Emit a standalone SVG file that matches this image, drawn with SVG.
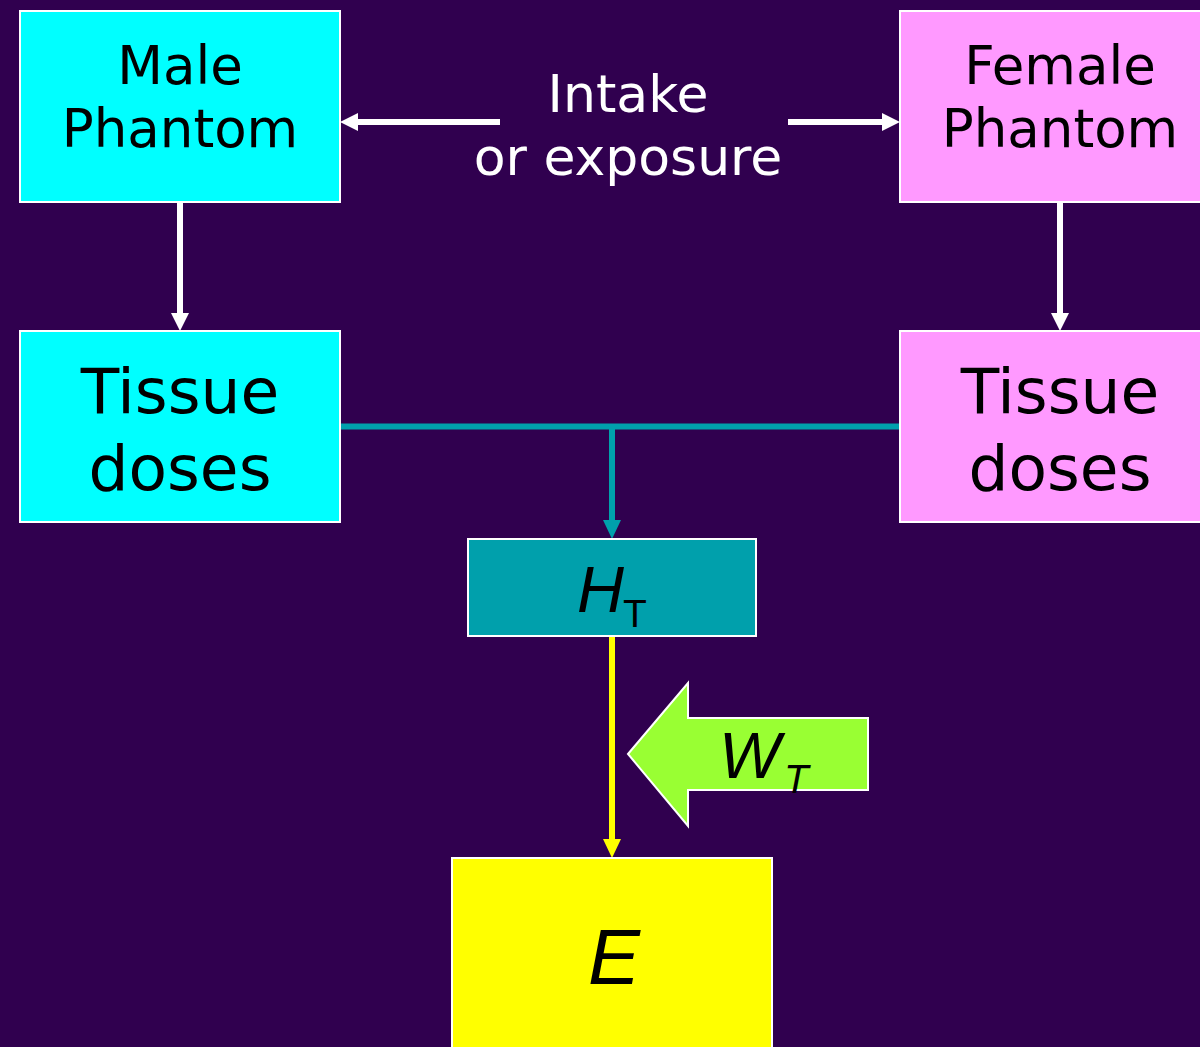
<svg xmlns="http://www.w3.org/2000/svg" width="1200" height="1047" viewBox="0 0 1200 1047">
<style>
.box{stroke:#ffffff;stroke-width:2}
.lbl{font-family:"DejaVu Sans",Verdana,sans-serif;fill:#000;text-anchor:middle}
.wl{stroke:#ffffff;stroke-width:6;fill:none}
.wh{fill:#ffffff}
.sym{font-family:"Liberation Sans",Arial,sans-serif;fill:#000}
</style>
<rect x="0" y="0" width="1200" height="1047" fill="#30004F"/>
<g id="connectors">
<line class="wl" x1="500" y1="122" x2="356" y2="122"/>
<polygon class="wh" points="340,122 358,113 358,131"/>
<line class="wl" x1="788" y1="122" x2="884" y2="122"/>
<polygon class="wh" points="900,122 882,113 882,131"/>
<line class="wl" x1="180" y1="203" x2="180" y2="315"/>
<polygon class="wh" points="180,331 171,313 189,313"/>
<line class="wl" x1="1060" y1="203" x2="1060" y2="315"/>
<polygon class="wh" points="1060,331 1051,313 1069,313"/>
<line x1="341" y1="426.5" x2="899" y2="426.5" stroke="#00A0AC" stroke-width="6"/>
<line x1="612" y1="426" x2="612" y2="522" stroke="#00A0AC" stroke-width="6"/>
<polygon points="612,539 603,520 621,520" fill="#00A0AC"/>
<line x1="612" y1="636" x2="612" y2="841" stroke="#FFFF00" stroke-width="6"/>
<polygon points="612,858 603,839 621,839" fill="#FFFF00"/>
</g>
<g id="label-intake">
<text class="lbl" x="628" y="112" font-size="52" style="fill:#ffffff">Intake</text>
<text class="lbl" x="628" y="175" font-size="52" style="fill:#ffffff">or exposure</text>
</g>
<g id="male-phantom">
<rect class="box" x="20" y="11" width="320" height="191" fill="#00FFFF"/>
<text class="lbl" x="180" y="84" font-size="53">Male</text>
<text class="lbl" x="180" y="147" font-size="53">Phantom</text>
</g>
<g id="female-phantom">
<rect class="box" x="900" y="11" width="320" height="191" fill="#FF99FF"/>
<text class="lbl" x="1060" y="84" font-size="53">Female</text>
<text class="lbl" x="1060" y="147" font-size="53">Phantom</text>
</g>
<g id="male-tissue">
<rect class="box" x="20" y="331" width="320" height="191" fill="#00FFFF"/>
<text class="lbl" x="180" y="413" font-size="63">Tissue</text>
<text class="lbl" x="180" y="490" font-size="63">doses</text>
</g>
<g id="female-tissue">
<rect class="box" x="900" y="331" width="320" height="191" fill="#FF99FF"/>
<text class="lbl" x="1060" y="413" font-size="63">Tissue</text>
<text class="lbl" x="1060" y="490" font-size="63">doses</text>
</g>
<g id="ht">
<rect class="box" x="468" y="539" width="288" height="97" fill="#00A0AC"/>
<text class="sym" x="577" y="612" font-size="65" font-style="italic">H</text>
<text class="sym" x="623" y="627" font-size="39">T</text>
</g>
<g id="wt">
<path d="M628,754 L688,683 L688,718 L868,718 L868,790 L688,790 L688,826 Z" fill="#99FF33" stroke="#ffffff" stroke-width="2"/>
<text class="sym" x="719" y="778" font-size="65" font-style="italic">W</text>
<text class="sym" x="784" y="793" font-size="40" font-style="italic">T</text>
</g>
<g id="e">
<rect class="box" x="452" y="858" width="320" height="200" fill="#FFFF00"/>
<text class="sym" x="588" y="984" font-size="78" font-style="italic">E</text>
</g>
</svg>
